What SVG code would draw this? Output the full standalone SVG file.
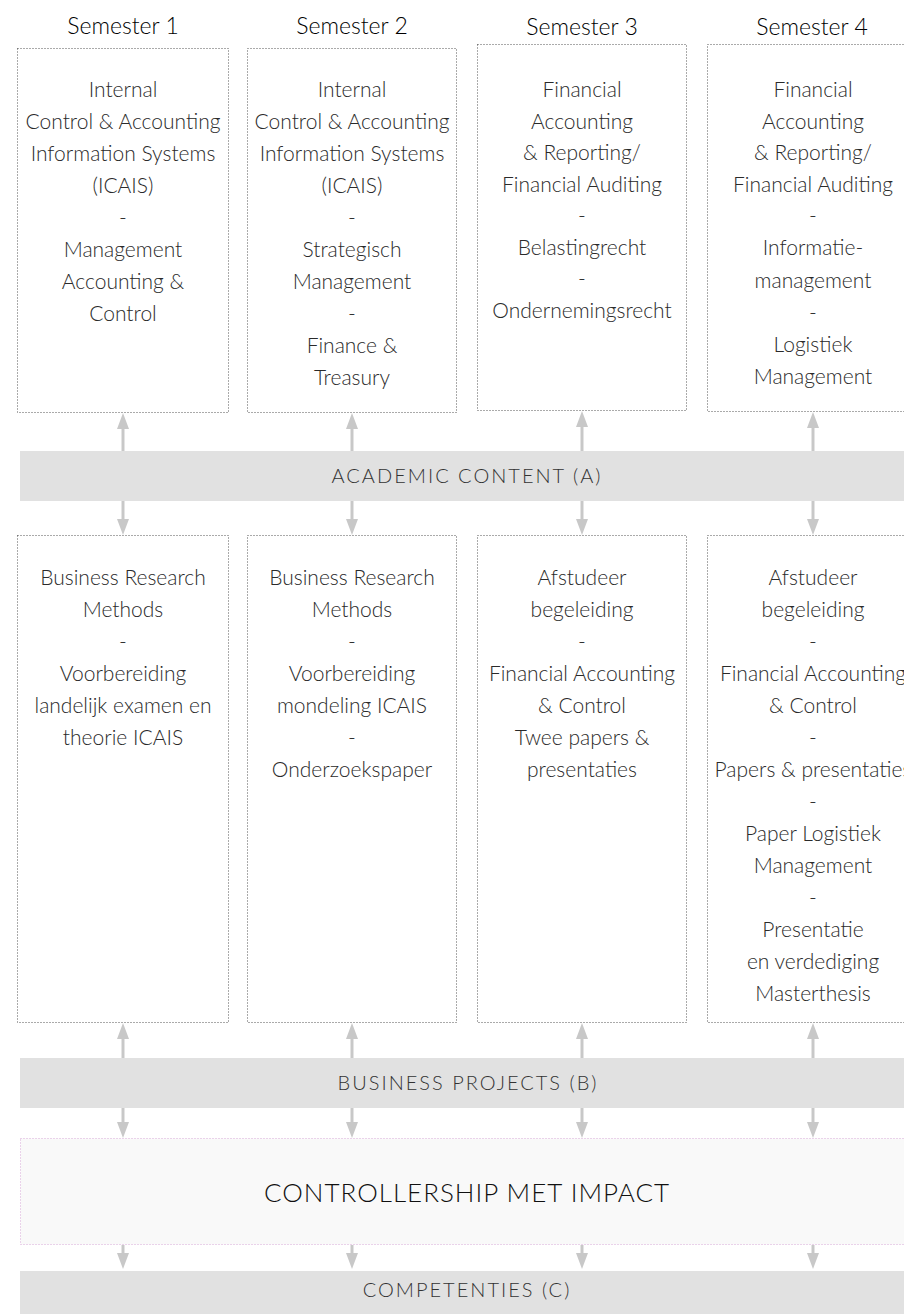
<svg xmlns="http://www.w3.org/2000/svg" width="904" height="1314" viewBox="0 0 904 1314">
<style>
.box{fill:#fff;stroke:#555;stroke-width:1;stroke-dasharray:1 2}
.hdr{font-family:Lato,"Noto Sans",sans-serif;font-weight:300;font-size:23px;fill:#000;text-anchor:middle}
.t{font-family:Lato,"Noto Sans",sans-serif;font-weight:300;font-size:21px;fill:#2a2a2a;text-anchor:middle}
.band{fill:#e1e1e1}
.bl{font-family:Lato,"Noto Sans",sans-serif;font-weight:300;font-size:20px;letter-spacing:2px;fill:#333;text-anchor:middle}
.big{font-family:Lato,"Noto Sans",sans-serif;font-weight:300;font-size:26px;letter-spacing:1px;fill:#111;text-anchor:middle}
.arr{stroke:#c8c8c8;stroke-width:3;fill:none;marker-end:url(#ah)}
</style>
<defs>
<marker id="ah" viewBox="0 0 16 12" markerWidth="16" markerHeight="12" refX="8" refY="6" orient="auto" markerUnits="userSpaceOnUse">
<path d="M0,0 L16,6 L0,12 z" fill="#c8c8c8"/>
</marker>
</defs>
<rect width="904" height="1314" fill="#fff"/>

<g id="headers">
<text class="hdr" x="123" y="34">Semester 1</text>
<text class="hdr" x="352" y="34">Semester 2</text>
<text class="hdr" x="582" y="35">Semester 3</text>
<text class="hdr" x="812" y="35">Semester 4</text>
</g>

<g id="a1">
<rect class="box" x="17.5" y="48.5" width="211" height="364"/>
<text class="t" x="123" y="97">Internal</text>
<text class="t" x="123" y="129">Control &amp; Accounting</text>
<text class="t" x="123" y="161">Information Systems</text>
<text class="t" x="123" y="193">(ICAIS)</text>
<text class="t" x="123" y="225">-</text>
<text class="t" x="123" y="257">Management</text>
<text class="t" x="123" y="289">Accounting &amp;</text>
<text class="t" x="123" y="321">Control</text>
</g>
<g id="a2">
<rect class="box" x="247.5" y="48.5" width="209" height="364"/>
<text class="t" x="352" y="97">Internal</text>
<text class="t" x="352" y="129">Control &amp; Accounting</text>
<text class="t" x="352" y="161">Information Systems</text>
<text class="t" x="352" y="193">(ICAIS)</text>
<text class="t" x="352" y="225">-</text>
<text class="t" x="352" y="257">Strategisch</text>
<text class="t" x="352" y="289">Management</text>
<text class="t" x="352" y="321">-</text>
<text class="t" x="352" y="353">Finance &amp;</text>
<text class="t" x="352" y="385">Treasury</text>
</g>
<g id="a3">
<rect class="box" x="477.5" y="44.5" width="209" height="366"/>
<text class="t" x="582" y="97">Financial</text>
<text class="t" x="582" y="128.5">Accounting</text>
<text class="t" x="582" y="160">&amp; Reporting/</text>
<text class="t" x="582" y="191.5">Financial Auditing</text>
<text class="t" x="582" y="223">-</text>
<text class="t" x="582" y="254.5">Belastingrecht</text>
<text class="t" x="582" y="286">-</text>
<text class="t" x="582" y="317.5">Ondernemingsrecht</text>
</g>
<g id="a4">
<rect class="box" x="707.5" y="44.5" width="212" height="367"/>
<text class="t" x="813" y="97">Financial</text>
<text class="t" x="813" y="128.5">Accounting</text>
<text class="t" x="813" y="160">&amp; Reporting/</text>
<text class="t" x="813" y="191.5">Financial Auditing</text>
<text class="t" x="813" y="223">-</text>
<text class="t" x="813" y="255">Informatie-</text>
<text class="t" x="813" y="288">management</text>
<text class="t" x="813" y="320">-</text>
<text class="t" x="813" y="352">Logistiek</text>
<text class="t" x="813" y="384">Management</text>
</g>

<g id="academic">
<rect class="band" x="20" y="451" width="900" height="50"/>
<text class="bl" x="467" y="483">ACADEMIC CONTENT (A)</text>
</g>

<g id="b1">
<rect class="box" x="17.5" y="535.5" width="211" height="487"/>
<text class="t" x="123" y="585">Business Research</text>
<text class="t" x="123" y="617">Methods</text>
<text class="t" x="123" y="649">-</text>
<text class="t" x="123" y="681">Voorbereiding</text>
<text class="t" x="123" y="713">landelijk examen en</text>
<text class="t" x="123" y="745">theorie ICAIS</text>
</g>
<g id="b2">
<rect class="box" x="247.5" y="535.5" width="209" height="487"/>
<text class="t" x="352" y="585">Business Research</text>
<text class="t" x="352" y="617">Methods</text>
<text class="t" x="352" y="649">-</text>
<text class="t" x="352" y="681">Voorbereiding</text>
<text class="t" x="352" y="713">mondeling ICAIS</text>
<text class="t" x="352" y="745">-</text>
<text class="t" x="352" y="777">Onderzoekspaper</text>
</g>
<g id="b3">
<rect class="box" x="477.5" y="535.5" width="209" height="487"/>
<text class="t" x="582" y="585">Afstudeer</text>
<text class="t" x="582" y="617">begeleiding</text>
<text class="t" x="582" y="649">-</text>
<text class="t" x="582" y="681">Financial Accounting</text>
<text class="t" x="582" y="713">&amp; Control</text>
<text class="t" x="582" y="745">Twee papers &amp;</text>
<text class="t" x="582" y="777">presentaties</text>
</g>
<g id="b4">
<rect class="box" x="707.5" y="535.5" width="212" height="487"/>
<text class="t" x="813" y="585">Afstudeer</text>
<text class="t" x="813" y="617">begeleiding</text>
<text class="t" x="813" y="649">-</text>
<text class="t" x="813" y="681">Financial Accounting</text>
<text class="t" x="813" y="713">&amp; Control</text>
<text class="t" x="813" y="745">-</text>
<text class="t" x="813" y="777">Papers &amp; presentaties</text>
<text class="t" x="813" y="809">-</text>
<text class="t" x="813" y="841">Paper Logistiek</text>
<text class="t" x="813" y="873">Management</text>
<text class="t" x="813" y="905">-</text>
<text class="t" x="813" y="937">Presentatie</text>
<text class="t" x="813" y="969">en verdediging</text>
<text class="t" x="813" y="1001">Masterthesis</text>
</g>

<g id="business">
<rect class="band" x="20" y="1058" width="900" height="50"/>
<text class="bl" x="468" y="1090">BUSINESS PROJECTS (B)</text>
</g>

<g id="controllership">
<rect x="20.5" y="1138.5" width="900" height="106" fill="#f9f9f9" stroke="#d9a8d9" stroke-width="1" stroke-dasharray="1 2"/>
<text class="big" x="467" y="1202">CONTROLLERSHIP MET IMPACT</text>
</g>

<g id="competenties">
<rect class="band" x="20" y="1271" width="900" height="50"/>
<text class="bl" x="467" y="1297">COMPETENTIES (C)</text>
</g>

<g id="connectors">
<line class="arr" x1="123" y1="451" x2="123" y2="421"/>
<line class="arr" x1="352" y1="451" x2="352" y2="421"/>
<line class="arr" x1="582" y1="451" x2="582" y2="419"/>
<line class="arr" x1="813" y1="451" x2="813" y2="420"/>
<line class="arr" x1="123" y1="501" x2="123" y2="527"/>
<line class="arr" x1="352" y1="501" x2="352" y2="527"/>
<line class="arr" x1="582" y1="501" x2="582" y2="527"/>
<line class="arr" x1="813" y1="501" x2="813" y2="527"/>
<line class="arr" x1="123" y1="1058" x2="123" y2="1031"/>
<line class="arr" x1="352" y1="1058" x2="352" y2="1031"/>
<line class="arr" x1="582" y1="1058" x2="582" y2="1031"/>
<line class="arr" x1="813" y1="1058" x2="813" y2="1031"/>
<line class="arr" x1="123" y1="1108" x2="123" y2="1130"/>
<line class="arr" x1="352" y1="1108" x2="352" y2="1130"/>
<line class="arr" x1="582" y1="1108" x2="582" y2="1130"/>
<line class="arr" x1="813" y1="1108" x2="813" y2="1130"/>
<line class="arr" x1="123" y1="1245" x2="123" y2="1261"/>
<line class="arr" x1="352" y1="1245" x2="352" y2="1261"/>
<line class="arr" x1="582" y1="1245" x2="582" y2="1261"/>
<line class="arr" x1="813" y1="1245" x2="813" y2="1261"/>
</g>
</svg>
